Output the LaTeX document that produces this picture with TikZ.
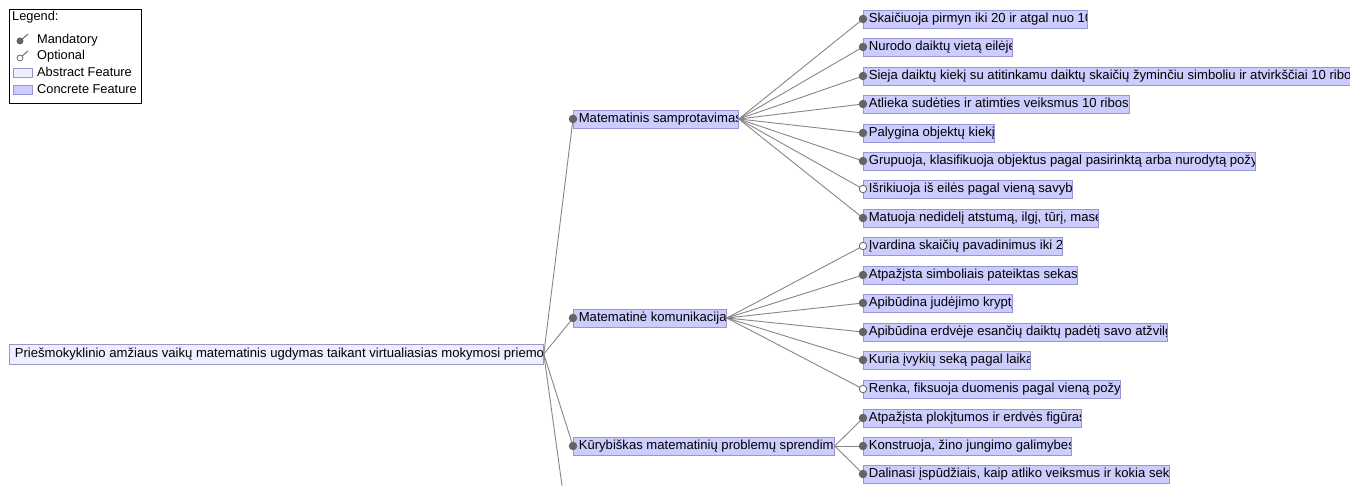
\documentclass[tikz,border=0pt]{standalone}
\usepackage{fontspec}
\setmainfont{Liberation Sans}
\definecolor{linec}{RGB}{135,135,135}
\definecolor{concf}{RGB}{204,204,255}
\definecolor{concd}{RGB}{150,150,210}
\definecolor{absf}{RGB}{238,238,255}
\definecolor{dotc}{RGB}{100,100,100}
\tikzset{
 fbox/.style={draw=concd, fill=concf, line width=0.8pt, minimum height=18, inner sep=0pt, anchor=west},
 abox/.style={fbox, fill=absf, minimum height=20},
 ctext/.style={path picture={\node[anchor=west, draw=none, fill=none, minimum width=0pt, minimum height=0pt, inner sep=0pt, font=\fontsize{13.1}{14}\selectfont, text height=9.3pt, text depth=2.7pt] at ([xshift=5]path picture bounding box.west) {#1};}},
 conn/.style={draw=linec, line width=0.9pt},
 mand/.style={circle, fill=dotc, inner sep=0pt, minimum size=8.5},
 opt/.style={circle, draw=dotc, fill=white, line width=0.8pt, inner sep=0pt, minimum size=7.5},
 legtext/.style={anchor=west, inner sep=0pt, font=\fontsize{12.8}{14}\selectfont},
}
\begin{document}
\begin{tikzpicture}[x=1pt,y=-1pt]
\useasboundingbox (0,0) rectangle (1350,486);
\clip (0,0) rectangle (1350,486);
\fill[white] (0,0) rectangle (1350,486);

% legend
\node[draw=black, line width=0.8pt, minimum width=132, minimum height=94, anchor=north west, inner sep=0pt] (legend) at (9,9) {};
\node[legtext] (lg) at (12,17) {Legend:};
\node[mand, minimum size=7] (lm) at (20,41) {};
\coordinate (lmt) at (28,34);
\draw[conn, draw=dotc] (lm.center) -- (lmt);
\node[legtext] (lmx) at (37,40) {Mandatory};
\node[opt, minimum size=6] (lo) at (20,58) {};
\coordinate (lot) at (28,51);
\draw[conn, draw=dotc] (lo) -- (lot);
\node[legtext] (lox) at (37,56) {Optional};
\node[draw=concd, fill=absf, line width=0.6pt, minimum width=19, minimum height=9, inner sep=0pt] (la) at (23,73) {};
\node[legtext] (lax) at (37,72) {Abstract Feature};
\node[draw=concd, fill=concf, line width=0.6pt, minimum width=19, minimum height=9, inner sep=0pt] (lc) at (23,90) {};
\node[legtext] (lcx) at (37,89) {Concrete Feature};

% root and mid nodes
\node[abox, minimum width=534, ctext={Priešmokyklinio amžiaus vaikų matematinis ugdymas taikant virtualiasias mokymosi priemones}] (root) at (9,354) {};
\node[fbox, minimum width=165, ctext={Matematinis samprotavimas}] (ms) at (573,119) {};
\node[fbox, minimum width=153, ctext={Matematinė komunikacija}] (mk) at (573,318) {};
\node[fbox, minimum width=261, ctext={Kūrybiškas matematinių problemų sprendimas}] (kp) at (573,446) {};
\coordinate (more) at (564,500);

% leaves
\node[fbox, minimum width=224, ctext={Skaičiuoja pirmyn iki 20 ir atgal nuo 10}] (l1) at (863,19) {};
\node[fbox, minimum width=149, ctext={Nurodo daiktų vietą eilėje}] (l2) at (863,47) {};
\node[fbox, minimum width=490, ctext={Sieja daiktų kiekį su atitinkamu daiktų skaičių žyminčiu simboliu ir atvirkščiai 10 ribose}] (l3) at (863,76) {};
\node[fbox, minimum width=266, ctext={Atlieka sudėties ir atimties veiksmus 10 ribose}] (l4) at (863,104) {};
\node[fbox, minimum width=131, ctext={Palygina objektų kiekį}] (l5) at (863,133) {};
\node[fbox, minimum width=392, ctext={Grupuoja, klasifikuoja objektus pagal pasirinktą arba nurodytą požymį}] (l6) at (863,161) {};
\node[fbox, minimum width=209, ctext={Išrikiuoja iš eilės pagal vieną savybę}] (l7) at (863,189) {};
\node[fbox, minimum width=235, ctext={Matuoja nedidelį atstumą, ilgį, tūrį, masę}] (l8) at (863,218) {};
\node[fbox, minimum width=199, ctext={Įvardina skaičių pavadinimus iki 20}] (l9) at (863,246) {};
\node[fbox, minimum width=214, ctext={Atpažįsta simboliais pateiktas sekas}] (l10) at (863,275) {};
\node[fbox, minimum width=149, ctext={Apibūdina judėjimo kryptį}] (l11) at (863,303) {};
\node[fbox, minimum width=304, ctext={Apibūdina erdvėje esančių daiktų padėtį savo atžvilgiu}] (l12) at (863,332) {};
\node[fbox, minimum width=167, ctext={Kuria įvykių seką pagal laiką}] (l13) at (863,360) {};
\node[fbox, minimum width=257, ctext={Renka, fiksuoja duomenis pagal vieną požymį}] (l14) at (863,389) {};
\node[fbox, minimum width=218, ctext={Atpažįsta plokįtumos ir erdvės figūras}] (l15) at (863,418) {};
\node[fbox, minimum width=208, ctext={Konstruoja, žino jungimo galimybes}] (l16) at (863,446) {};
\node[fbox, minimum width=306, ctext={Dalinasi įspūdžiais, kaip atliko veiksmus ir kokia seka}] (l17) at (863,474) {};

% connectors
\foreach \c in {ms,mk,kp} \draw[conn] (root.east) -- (\c.west);
\draw[conn] (root.east) -- (more);
\foreach \c in {l1,l2,l3,l4,l5,l6,l7,l8} \draw[conn] (ms.east) -- (\c.west);
\foreach \c in {l9,l10,l11,l12,l13,l14} \draw[conn] (mk.east) -- (\c.west);
\foreach \c in {l15,l16,l17} \draw[conn] (kp.east) -- (\c.west);

% decorations (mandatory / optional)
\foreach \c in {ms,mk,kp,l1,l2,l3,l4,l5,l6,l8,l10,l11,l12,l13,l15,l16,l17} \node[mand] (d\c) at (\c.west) {};
\foreach \c in {l7,l9,l14} \node[opt] (d\c) at (\c.west) {};
\end{tikzpicture}
\end{document}
